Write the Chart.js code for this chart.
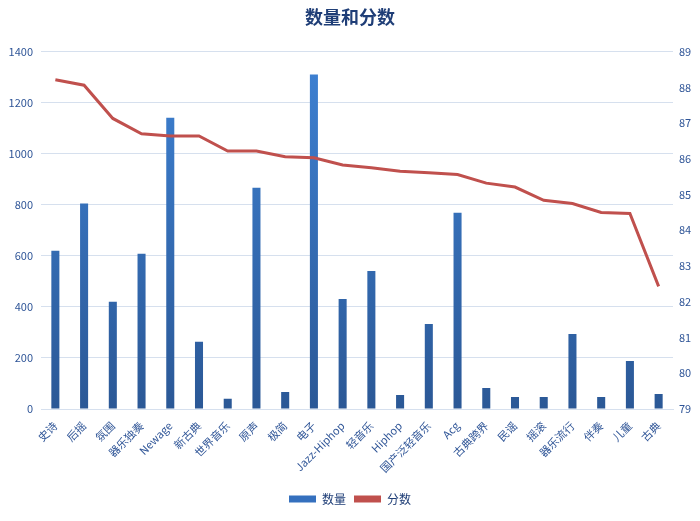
<!DOCTYPE html>
<html>
<head>
<meta charset="utf-8">
<script src="https://cdn.jsdelivr.net/npm/chart.js@4"></script>
<style>
  html, body { margin: 0; padding: 0; background: #fff; }
  #wrap { width: 700px; height: 521px; position: relative; }
</style>
</head>
<body>
<div id="wrap"><canvas id="chart" width="700" height="521"></canvas></div>
<script>
// categories and values
const genres = ['史诗', '后摇', '氛围', '器乐独奏', 'Newage', '新古典', '世界音乐', '原声', '极简', '电子',
  'Jazz-Hiphop', '轻音乐', 'Hiphop', '国产泛轻音乐', 'Acg', '古典跨界', '民谣', '摇滚', '器乐流行', '伴奏', '儿童', '古典'];
const counts = [620, 805, 420, 608, 1141, 263, 40, 867, 67, 1310,
  431, 541, 55, 333, 769, 82, 47, 47, 294, 47, 188, 59];
const scores = [88.21, 88.06, 87.13, 86.70, 86.64, 86.64, 86.22, 86.22, 86.06, 86.03,
  85.83, 85.75, 85.65, 85.61, 85.56, 85.32, 85.21, 84.84, 84.75, 84.50, 84.47, 82.43];
const leftTicks = [0, 200, 400, 600, 800, 1000, 1200, 1400];
const rightTicks = [79, 80, 81, 82, 83, 84, 85, 86, 87, 88, 89];

const tickColor = '#2F5597';
const gridColor = '#D6E0EE';
const fontFam = '"Noto Sans CJK SC", "Noto Sans", sans-serif';

function barGradient(ctx) {
  const area = ctx.chart.chartArea;
  if (!area) return '#3A78C8';
  const g = ctx.chart.ctx.createLinearGradient(0, area.top, 0, area.bottom);
  g.addColorStop(0, '#3E82D4');
  g.addColorStop(1, '#2B5896');
  return g;
}

new Chart(document.getElementById('chart').getContext('2d'), {
  type: 'bar',
  data: {
    labels: genres,
    datasets: [
      {
        type: 'line',
        label: '分数',
        data: scores,
        yAxisID: 'y2',
        borderColor: '#C0504D',
        backgroundColor: '#C0504D',
        borderWidth: 3,
        pointRadius: 0,
        tension: 0,
        order: 0
      },
      {
        type: 'bar',
        label: '数量',
        data: counts,
        yAxisID: 'y',
        backgroundColor: barGradient,
        categoryPercentage: 1,
        barPercentage: 0.28,
        order: 1
      }
    ]
  },
  options: {
    responsive: false,
    animation: false,
    layout: { padding: { top: 4, bottom: 6, left: 0, right: 0 } },
    plugins: {
      title: {
        display: true,
        text: '数量和分数',
        color: '#1F3E77',
        font: { family: fontFam, size: 18, weight: 'bold' },
        padding: { top: 2, bottom: 24 }
      },
      legend: {
        position: 'bottom',
        labels: {
          color: '#1F3E77',
          font: { family: fontFam, size: 12 },
          boxWidth: 27,
          boxHeight: 7,
          padding: 8,
          generateLabels: chart => {
            return [
              { text: '数量', fillStyle: '#3570BE', strokeStyle: '#3570BE', lineWidth: 0, datasetIndex: 1, fontColor: '#1F3E77' },
              { text: '分数', fillStyle: '#C0504D', strokeStyle: '#C0504D', lineWidth: 0, datasetIndex: 0, fontColor: '#1F3E77' }
            ];
          }
        }
      },
      tooltip: { enabled: false }
    },
    scales: {
      x: {
        grid: { display: false },
        border: { display: true, color: gridColor },
        ticks: {
          color: tickColor,
          font: { family: fontFam, size: 11 },
          minRotation: 45,
          maxRotation: 45,
          autoSkip: false,
          padding: 2
        },
        afterFit: s => { s.height = 76; }
      },
      y: {
        position: 'left',
        min: 0,
        max: 1400,
        afterBuildTicks: s => { s.ticks = leftTicks.map(v => ({ value: v })); },
        grid: { color: gridColor, drawTicks: false },
        border: { display: false },
        ticks: {
          color: tickColor,
          font: { family: fontFam, size: 11 },
          padding: 8,
          callback: v => String(v)
        },
        afterFit: s => { s.width = 41; }
      },
      y2: {
        position: 'right',
        min: 79,
        max: 89,
        afterBuildTicks: s => { s.ticks = rightTicks.map(v => ({ value: v })); },
        grid: { display: false, drawTicks: false },
        border: { display: false },
        ticks: { color: tickColor, font: { family: fontFam, size: 11 }, padding: 6 },
        afterFit: s => { s.width = 27; }
      }
    }
  }
});
</script>
</body>
</html>
